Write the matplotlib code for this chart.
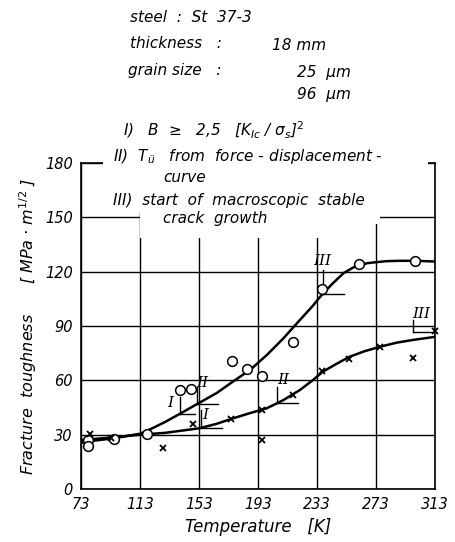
import matplotlib
matplotlib.use("Agg")
import matplotlib.pyplot as plt
from matplotlib.patches import Rectangle

# measured points (grain size 25 um = circles, 96 um = crosses)
circ_T = [77.7, 77.7, 95.4, 117.5, 140, 147.4, 175.6, 185.3, 195.5, 216.5, 236.6, 261.5, 299.7]
circ_K = [27.0, 23.8, 27.6, 30.5, 54.7, 55.4, 70.9, 66.5, 62.6, 81.4, 110.5, 124.3, 126.0]
cross_T = [79, 93, 128.4, 148.7, 174.9, 195.7, 195.7, 216.5, 236.2, 254.9, 275.7, 297.9, 313]
cross_K = [30.2, 28.0, 22.6, 35.9, 38.5, 43.8, 27.0, 52.1, 65.4, 72.0, 78.3, 72.5, 87.3]

# fitted curves
up_T = [73, 80, 95, 113, 120, 130, 140, 153, 165, 176, 188, 199, 210, 221.5, 230, 235,
        243, 251, 258, 267, 280, 289, 300, 313]
up_K = [25.5, 26.5, 28, 30.5, 33, 37, 41.5, 47.5, 53, 59.3, 66, 74, 83, 93.4, 101, 106,
        113, 119.2, 122.5, 124.7, 125.8, 126, 126, 125.6]
lo_T = [73, 80, 95, 113, 130, 153, 165, 176, 188, 199, 210, 221.5, 230, 237, 246, 255,
        265, 276, 287, 298, 313]
lo_K = [27, 27.5, 28.5, 30, 31, 33.5, 36, 39, 42, 44.6, 49, 54.7, 60, 64.8, 69, 73,
        76, 78.6, 80.8, 82.3, 84]

# criterion markers: label, label pos, vertical x, vertical y0/y1, horizontal end x
marks = [
    ("I",   133.3, 47.3, 140.0, 51.0, 41.4, 150.5),
    ("II",  155.5, 58.4, 151.4, 56.5, 47.0, 166.1),
    ("III", 236.6, 126.0, 237.3, 121.0, 107.5, 251.0),
    ("I",   157.3, 40.9, 154.4, 43.6, 33.9, 168.4),
    ("II",  210.2, 60.2, 205.7, 56.5, 47.3, 220.3),
    ("III", 304.0, 96.7, 298.3, 93.4, 86.6, 313.0),
]

xticks = [73, 113, 153, 193, 233, 273, 313]
yticks = [0, 30, 60, 90, 120, 150, 180]

W, H = 455, 542
fig = plt.figure(figsize=(W / 100, H / 100), dpi=100)
ax = fig.add_axes([81 / W, 1 - 489 / H, 354 / W, 326 / H])
ax.set_xlim(73, 313)
ax.set_ylim(0, 180)
ax.set_xticks(xticks)
ax.set_yticks(yticks)
ax.set_xticklabels([str(t) for t in xticks], style='italic', fontsize=10.5)
ax.set_yticklabels([str(t) for t in yticks], style='italic', fontsize=10.5)
ax.tick_params(length=0, pad=6)
ax.grid(True, color='black', lw=1.0)
for s in ax.spines.values():
    s.set_linewidth(1.2)

ax.plot(up_T, up_K, color='black', lw=1.8, zorder=3)
ax.plot(lo_T, lo_K, color='black', lw=1.8, zorder=3)
ax.plot(circ_T, circ_K, 'o', ms=7, mfc='white', mec='black', mew=1.1, zorder=4, clip_on=False)
ax.plot(cross_T, cross_K, 'x', ms=4, color='black', mew=1.3, zorder=4, clip_on=False)

for lab, lx, ly, vx, vy0, vy1, hx in marks:
    ax.plot([vx, vx], [vy0, vy1], color='black', lw=1.0, zorder=3)
    ax.plot([vx, hx], [vy1, vy1], color='black', lw=1.0, zorder=3)
    ax.text(lx, ly, lab, family='DejaVu Serif', style='italic', fontsize=11,
            ha='center', va='center', zorder=5)

ax.set_xlabel("Temperature   [K]", style='italic', fontsize=12, labelpad=4)
ax.set_ylabel("Fracture  toughness      [ MPa · m$^{1/2}$ ]", style='italic', fontsize=11.5, labelpad=4)

# white area behind the legend text
fig.add_artist(Rectangle((103 / W, 1 - 212 / H), 325 / W, 62 / H, transform=fig.transFigure,
                         facecolor='white', edgecolor='none', zorder=5))
fig.add_artist(Rectangle((140 / W, 1 - 238 / H), 180 / W, 28 / H, transform=fig.transFigure,
                         facecolor='white', edgecolor='none', zorder=5))
fig.add_artist(Rectangle((320 / W, 1 - 224 / H), 60 / W, 14 / H, transform=fig.transFigure,
                         facecolor='white', edgecolor='none', zorder=5))

def ftext(x, y, s, **kw):
    fig.text(x / W, 1 - y / H, s, style='italic', fontsize=11, va='center', zorder=6, **kw)

ftext(130, 17, "steel  :  St  37-3")
ftext(130, 43, "thickness   :")
ftext(272, 45, "18 mm")
ftext(128, 70, "grain size   :")
ftext(297, 72, "25  µm")
ftext(297, 95, "96  µm")
ftext(123, 130, "I)   B  ≥   2,5   [K$_{Ic}$ / σ$_s$]$^2$")
ftext(113, 157, "II)  T$_{ü}$   from  force - displacement -")
ftext(163, 178, "curve")
ftext(113, 200, "III)  start  of  macroscopic  stable")
ftext(163, 219, "crack  growth")

fig.savefig("out.png", dpi=100)
